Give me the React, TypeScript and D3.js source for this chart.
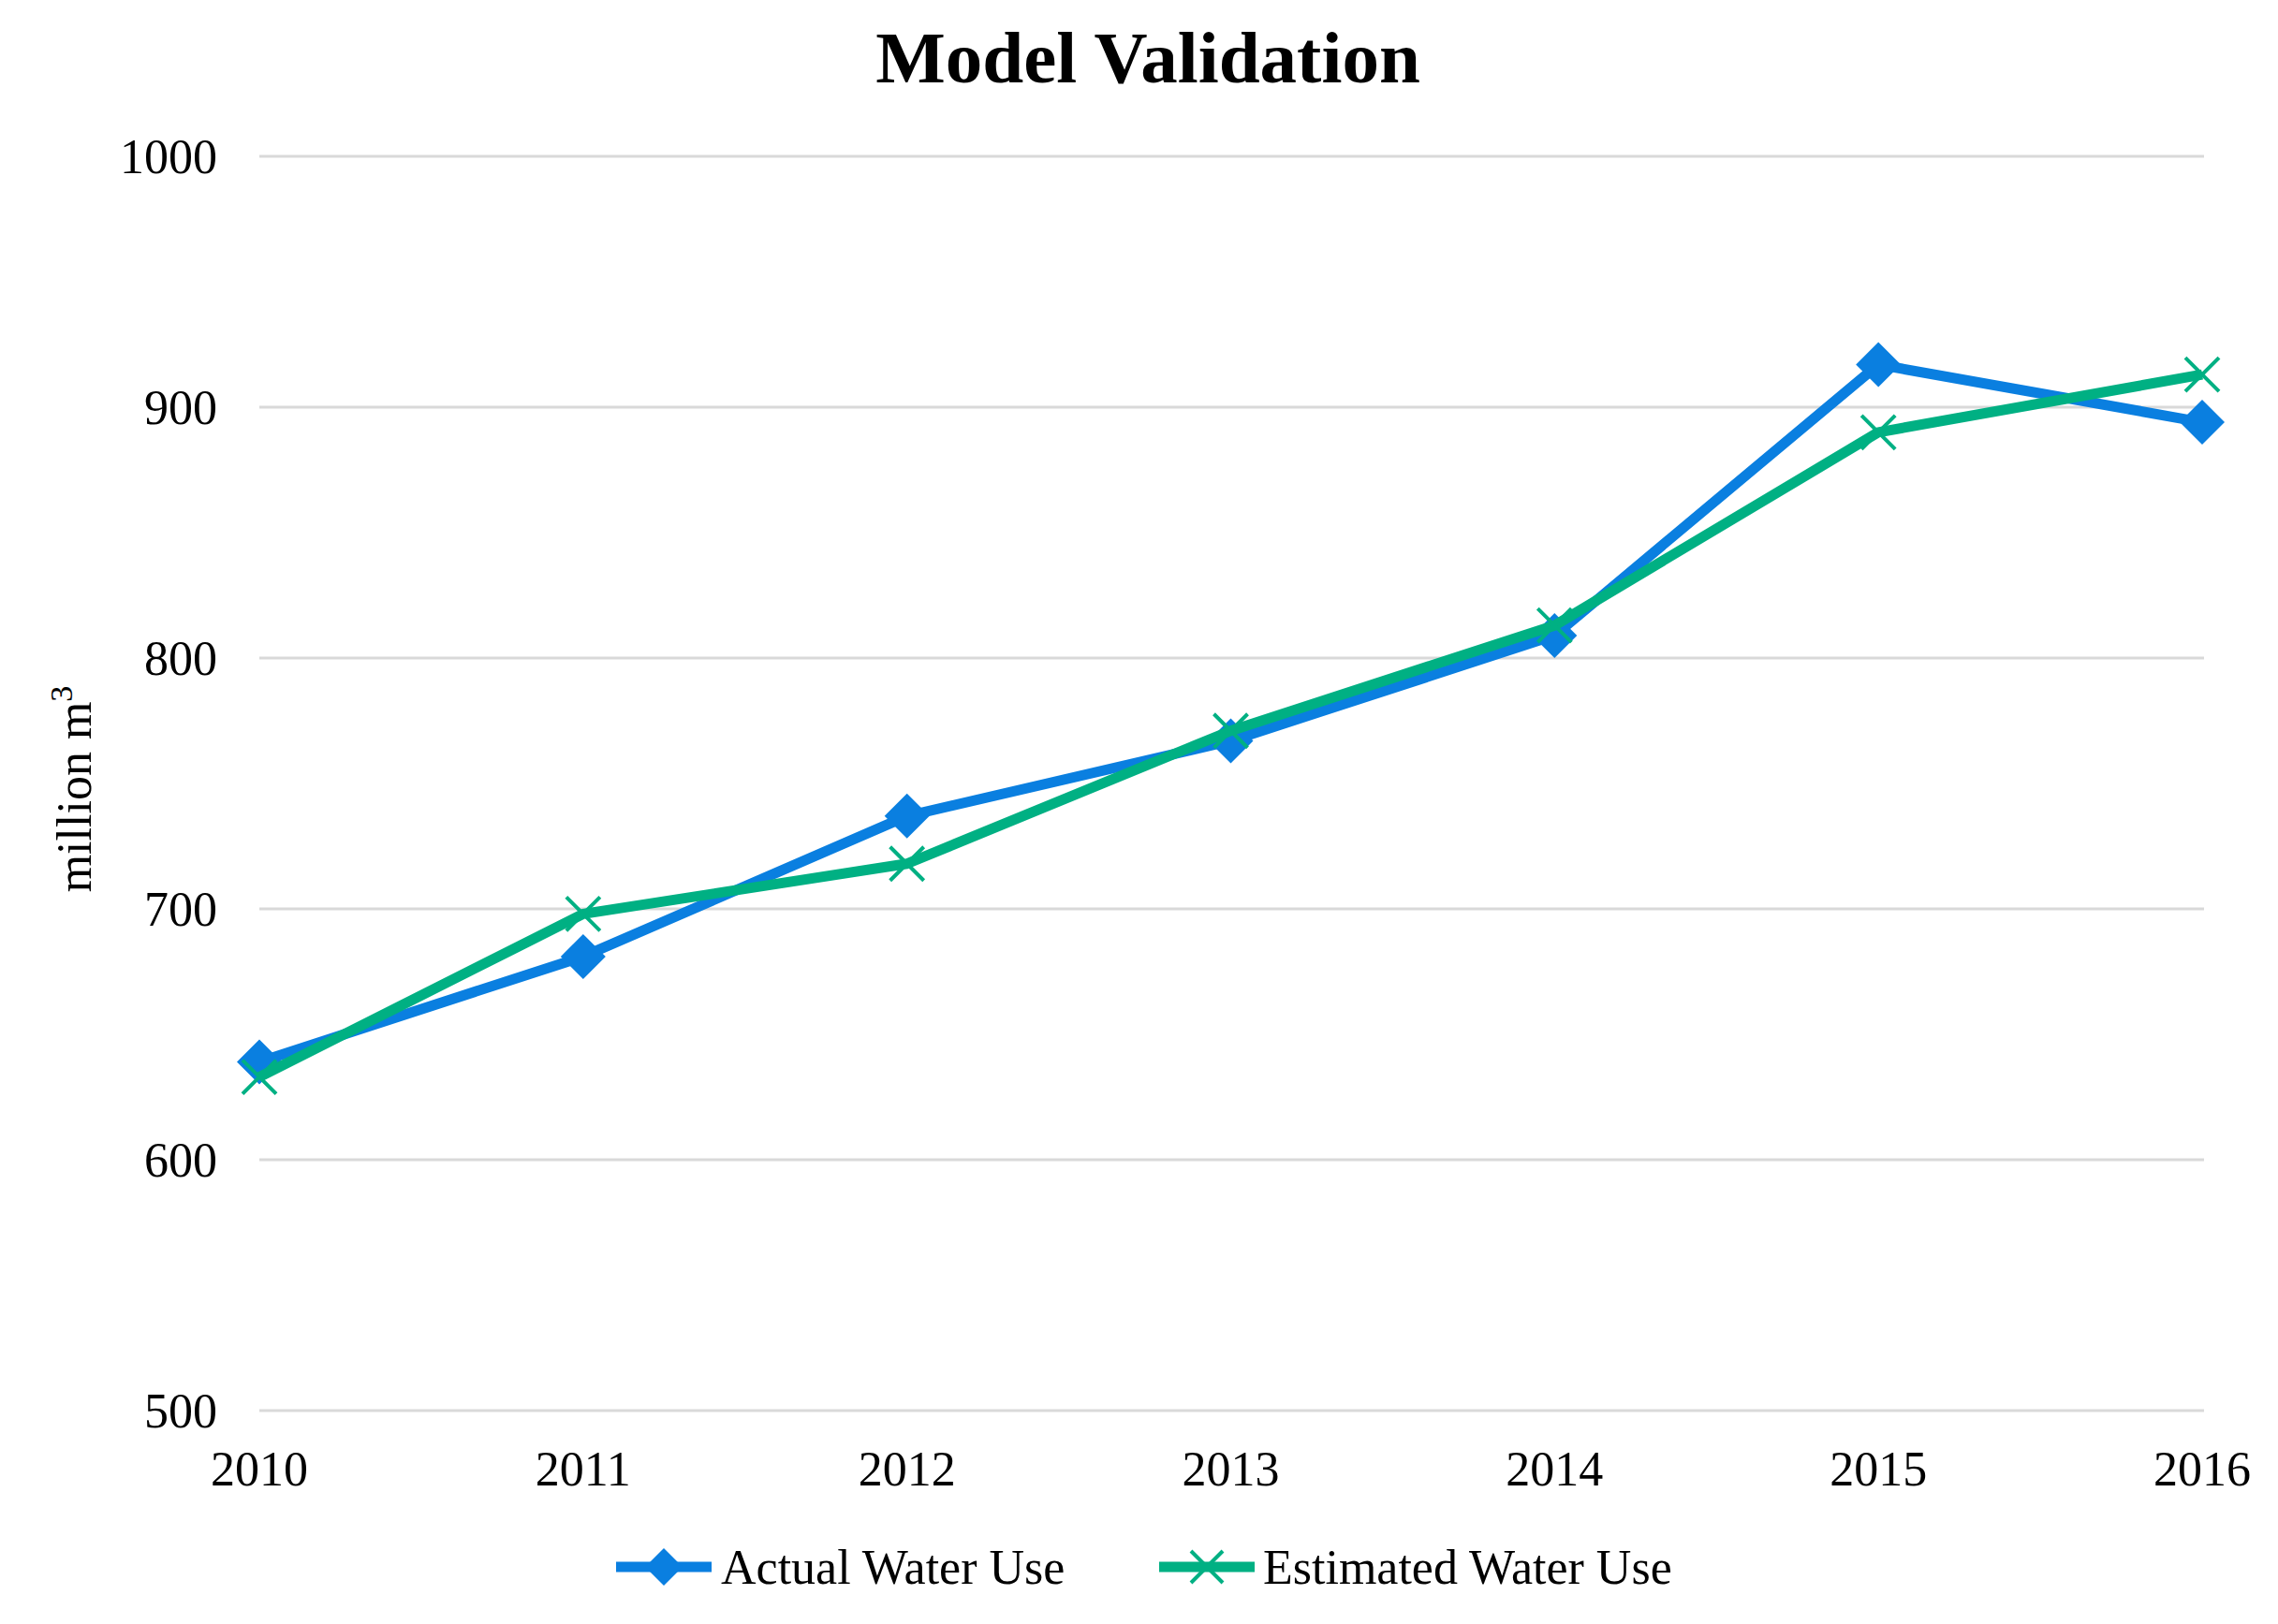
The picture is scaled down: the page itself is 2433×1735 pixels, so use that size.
import { useEffect, useRef } from 'react';
import * as d3 from 'd3';

const years = ['2010', '2011', '2012', '2013', '2014', '2015', '2016'];
const actualUse = [639, 681, 737, 767, 809, 917, 894];
const estimatedUse = [633, 698, 718, 771, 813, 890, 913];
const yTicks = [500, 600, 700, 800, 900, 1000];

const W = 2433;
const H = 1735;
const BLUE = '#0A7FE0';
const GREEN = '#00B083';
const FONT = '"Liberation Serif", "Times New Roman", serif';

export default function App() {
    const svgRef = useRef<SVGSVGElement>(null);

    useEffect(() => {
        if (!svgRef.current) return;
        const svg = d3.select(svgRef.current);
        svg.selectAll('*').remove();

        const x = d3.scalePoint<string>().domain(years).range([277, 2352]);
        const y = d3.scaleLinear().domain([500, 1000]).range([1507, 167]);

        svg.append('rect').attr('width', W).attr('height', H).attr('fill', '#fff');

        // gridlines
        svg.append('g')
            .selectAll('line')
            .data(yTicks)
            .join('line')
            .attr('x1', 277)
            .attr('x2', 2354)
            .attr('y1', d => y(d))
            .attr('y2', d => y(d))
            .attr('stroke', '#d9d9d9')
            .attr('stroke-width', 3);

        // y tick labels
        svg.append('g')
            .selectAll('text')
            .data(yTicks)
            .join('text')
            .attr('x', 232)
            .attr('y', d => y(d))
            .attr('dy', '0.35em')
            .attr('text-anchor', 'end')
            .attr('font-family', FONT)
            .attr('font-size', 52)
            .text(d => d);

        // x tick labels
        svg.append('g')
            .selectAll('text')
            .data(years)
            .join('text')
            .attr('x', d => x(d)!)
            .attr('y', 1587)
            .attr('text-anchor', 'middle')
            .attr('font-family', FONT)
            .attr('font-size', 52)
            .text(d => d);

        // title
        svg.append('text')
            .attr('x', 1226)
            .attr('y', 88)
            .attr('text-anchor', 'middle')
            .attr('font-family', FONT)
            .attr('font-weight', 'bold')
            .attr('font-size', 79)
            .text('Model Validation');

        // y axis title
        const yt = svg.append('text')
            .attr('transform', 'translate(97,843) rotate(-90)')
            .attr('text-anchor', 'middle')
            .attr('font-family', FONT)
            .attr('font-size', 52);
        yt.append('tspan').text('million m');
        yt.append('tspan').attr('font-size', 34).attr('dy', -20).text('3');

        const line = d3.line<number>()
            .x((_, i) => x(years[i])!)
            .y(d => y(d));

        const diamond = (cx: number, cy: number, r: number) =>
            `M${cx},${cy - r}L${cx + r},${cy}L${cx},${cy + r}L${cx - r},${cy}Z`;
        const cross = (cx: number, cy: number, r: number) =>
            `M${cx - r},${cy - r}L${cx + r},${cy + r}M${cx - r},${cy + r}L${cx + r},${cy - r}`;

        // actual water use
        svg.append('path')
            .datum(actualUse)
            .attr('d', line)
            .attr('fill', 'none')
            .attr('stroke', BLUE)
            .attr('stroke-width', 11)
            .attr('stroke-linejoin', 'round');
        svg.append('g')
            .selectAll('path')
            .data(actualUse)
            .join('path')
            .attr('d', (d, i) => diamond(x(years[i])!, y(d), 24))
            .attr('fill', BLUE);

        // estimated water use
        svg.append('path')
            .datum(estimatedUse)
            .attr('d', line)
            .attr('fill', 'none')
            .attr('stroke', GREEN)
            .attr('stroke-width', 11)
            .attr('stroke-linejoin', 'round');
        svg.append('g')
            .selectAll('path')
            .data(estimatedUse)
            .join('path')
            .attr('d', (d, i) => cross(x(years[i])!, y(d), 18))
            .attr('fill', 'none')
            .attr('stroke', GREEN)
            .attr('stroke-width', 4);

        // legend
        const legendY = 1674;
        const lg = svg.append('g');
        lg.append('line').attr('x1', 658).attr('x2', 760).attr('y1', legendY).attr('y2', legendY)
            .attr('stroke', BLUE).attr('stroke-width', 11);
        lg.append('path').attr('d', diamond(709, legendY, 20)).attr('fill', BLUE);
        lg.append('text').attr('x', 770).attr('y', legendY).attr('dy', '0.35em')
            .attr('font-family', FONT).attr('font-size', 52).text('Actual Water Use');

        lg.append('line').attr('x1', 1238).attr('x2', 1340).attr('y1', legendY).attr('y2', legendY)
            .attr('stroke', GREEN).attr('stroke-width', 11);
        lg.append('path').attr('d', cross(1289, legendY, 17)).attr('fill', 'none')
            .attr('stroke', GREEN).attr('stroke-width', 4);
        lg.append('text').attr('x', 1349).attr('y', legendY).attr('dy', '0.35em')
            .attr('font-family', FONT).attr('font-size', 52).text('Estimated Water Use');
    }, []);

    return (
        <div style={{ position: 'absolute', left: 0, top: 0 }}>
            <svg ref={svgRef} width={W} height={H}></svg>
        </div>
    );
}
